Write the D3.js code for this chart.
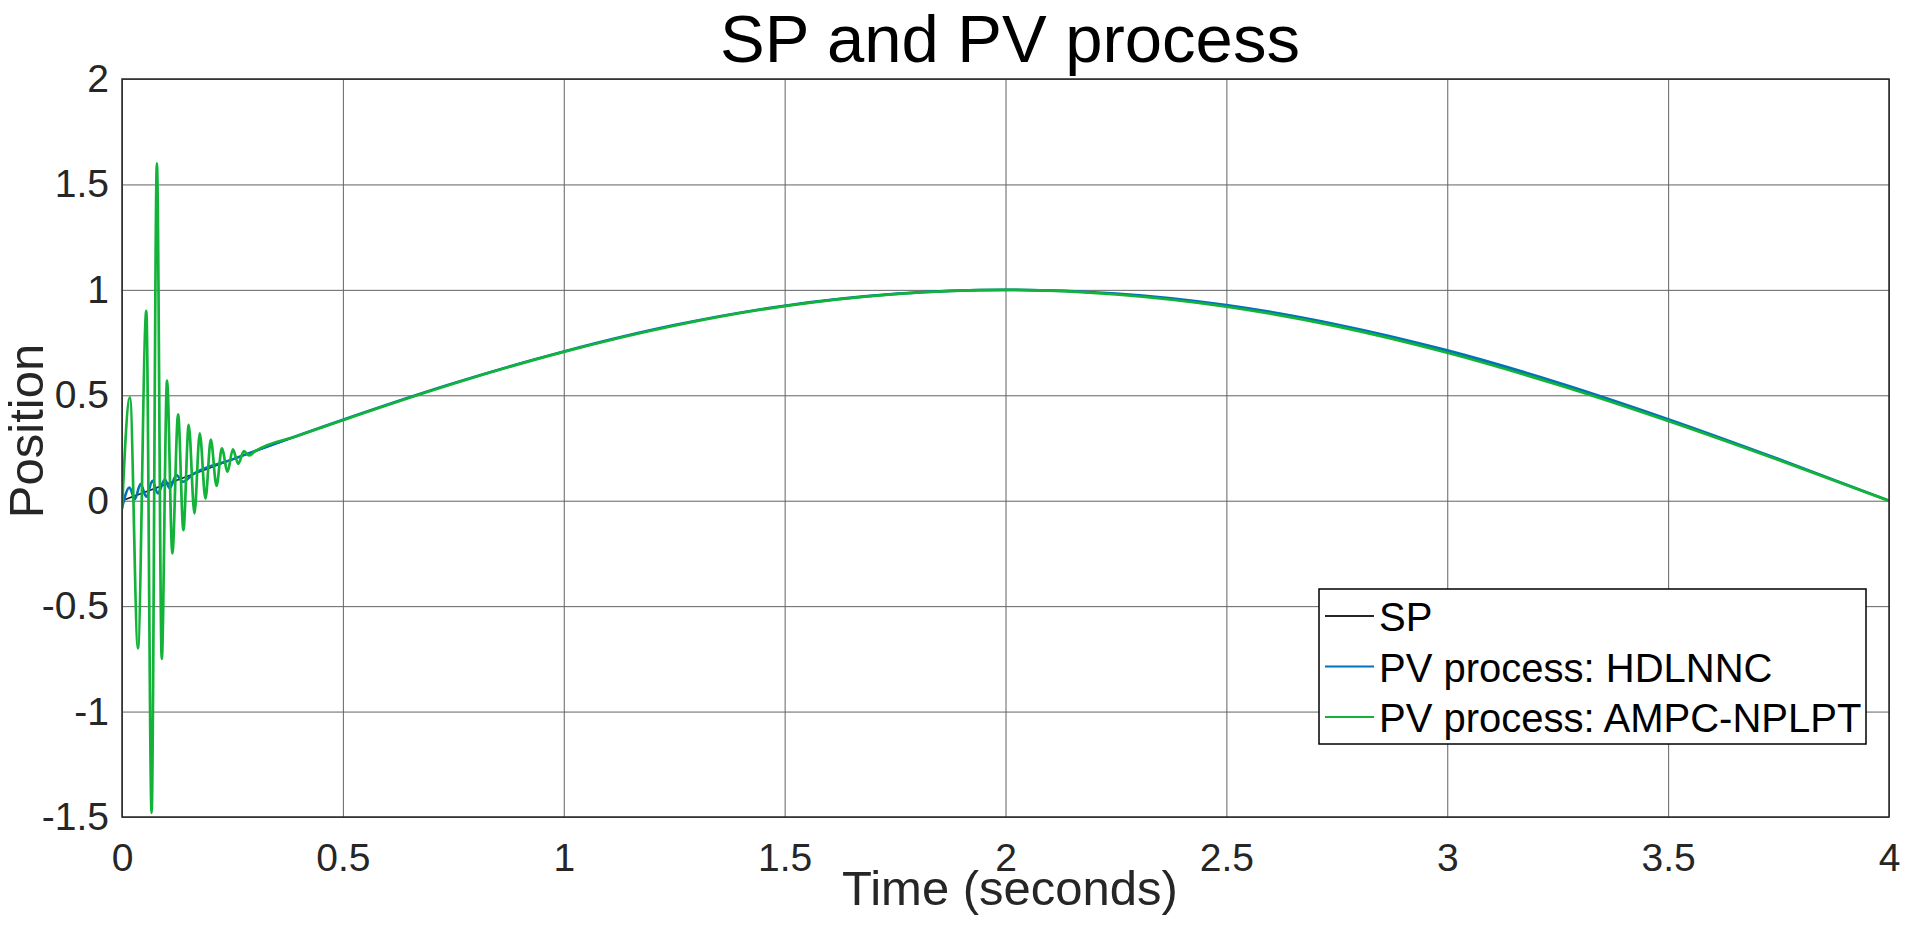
<!DOCTYPE html>
<html>
<head>
<meta charset="utf-8">
<script src="https://cdn.jsdelivr.net/npm/d3@7"></script>
<style>
  body { margin: 0; background: #fff; }
  svg text { font-family: "Liberation Sans", Arial, Helvetica, sans-serif; }
</style>
</head>
<body>
<div id="chart"></div>
<script>
var width = 1920;
var height = 936;

// set point (SP)
var spTime = [0, 0.25, 0.5, 0.75, 1, 1.25, 1.5, 1.75, 2, 2.25, 2.5, 2.75, 3, 3.25, 3.5, 3.75, 4];
var spValue = [0, 0.1951, 0.3827, 0.5556, 0.7071, 0.8315, 0.9239, 0.9808, 1.0, 0.9808, 0.9239, 0.8315, 0.7071, 0.5556, 0.3827, 0.1951, 0];

// PV process: HDLNNC
var hdTime = [0, 0.017, 0.029, 0.042, 0.055, 0.069, 0.081, 0.097, 0.108, 0.123, 0.138, 0.16,
    0.25, 0.5, 0.75, 1, 1.25, 1.5, 1.75, 2, 2.25, 2.5, 2.75, 3, 3.25, 3.5, 3.75, 4];
var hdValue = [-0.035, 0.063, 0.007, 0.079, 0.019, 0.095, 0.035, 0.100, 0.059, 0.122, 0.090, 0.125,
    0.196, 0.384, 0.557, 0.708, 0.833, 0.925, 0.981, 1.0, 0.983, 0.928, 0.836, 0.713, 0.561, 0.387, 0.198, 0.0];

// PV process: AMPC-NPLPT
var amTime = [0, 0.018, 0.036, 0.055, 0.067, 0.079, 0.090, 0.102, 0.114, 0.127, 0.139, 0.151,
    0.164, 0.176, 0.189, 0.201, 0.214, 0.226, 0.239, 0.251, 0.263, 0.276, 0.288, 0.30,
    0.4, 0.5, 0.75, 1, 1.25, 1.5, 1.75, 2, 2.25, 2.5, 2.75, 3, 3.25, 3.5, 3.75, 4];
var amValue = [-0.04, 0.49, -0.70, 0.90, -1.48, 1.60, -0.75, 0.57, -0.25, 0.41, -0.14, 0.36,
    -0.06, 0.32, 0.01, 0.29, 0.07, 0.248, 0.138, 0.244, 0.175, 0.235, 0.215, 0.233,
    0.309, 0.382, 0.555, 0.706, 0.830, 0.923, 0.980, 1.0, 0.978, 0.920, 0.827, 0.702, 0.550, 0.378, 0.193, 0.0];

var xTicks = [0, 0.5, 1, 1.5, 2, 2.5, 3, 3.5, 4];
var yTicks = [-1.5, -1, -0.5, 0, 0.5, 1, 1.5, 2];

var seriesNames = ["SP", "PV process: HDLNNC", "PV process: AMPC-NPLPT"];
var seriesColors = ["#262626", "#0072bd", "#13b33a"];

var margin = { left: 122, right: 31, top: 79, bottom: 119 };
var plotW = width - margin.left - margin.right;
var plotH = height - margin.top - margin.bottom;

var xScale = d3.scaleLinear().domain([0, 4]).range([0, plotW]);
var yScale = d3.scaleLinear().domain([-1.5, 2]).range([plotH, 0]);

var svg = d3.select("#chart").append("svg")
    .attr("width", width)
    .attr("height", height);

svg.append("rect").attr("width", width).attr("height", height).attr("fill", "#fff");

var g = svg.append("g").attr("transform", `translate(${margin.left},${margin.top})`);

// grid
g.append("g")
    .attr("transform", `translate(0,${plotH})`)
    .call(d3.axisBottom(xScale).tickValues(xTicks).tickSize(-plotH).tickFormat(""))
    .call(s => s.select(".domain").remove())
    .selectAll("line").attr("stroke", "#636363").attr("stroke-width", 1);

g.append("g")
    .call(d3.axisLeft(yScale).tickValues(yTicks).tickSize(-plotW).tickFormat(""))
    .call(s => s.select(".domain").remove())
    .selectAll("line").attr("stroke", "#636363").attr("stroke-width", 1);

// tick labels
var xAxis = g.append("g")
    .attr("transform", `translate(0,${plotH})`)
    .call(d3.axisBottom(xScale).tickValues(xTicks).tickSize(0).tickPadding(26).tickFormat(d => String(d)));
xAxis.select(".domain").remove();
xAxis.selectAll("text").attr("font-size", 39).attr("fill", "#262626")
    .style("font-family", "'Liberation Sans', Arial, sans-serif");

var yAxis = g.append("g")
    .call(d3.axisLeft(yScale).tickValues(yTicks).tickSize(0).tickPadding(13).tickFormat(d => String(d)));
yAxis.select(".domain").remove();
yAxis.selectAll("text").attr("font-size", 39).attr("fill", "#262626")
    .style("font-family", "'Liberation Sans', Arial, sans-serif");

// lines
g.append("clipPath").attr("id", "clip")
    .append("rect").attr("width", plotW).attr("height", plotH);

var line = d3.line()
    .x(d => xScale(d[0]))
    .y(d => yScale(d[1]))
    .curve(d3.curveMonotoneX);

var series = [
    d3.zip(spTime, spValue),
    d3.zip(hdTime, hdValue),
    d3.zip(amTime, amValue)
];
var widths = [1.6, 2.6, 2.7];

var lines = g.append("g").attr("clip-path", "url(#clip)");
series.forEach(function(d, i) {
    lines.append("path")
        .datum(d)
        .attr("fill", "none")
        .attr("stroke", seriesColors[i])
        .attr("stroke-width", widths[i])
        .attr("stroke-linejoin", "round")
        .attr("d", line);
});

// axes box
g.append("rect")
    .attr("width", plotW).attr("height", plotH)
    .attr("fill", "none").attr("stroke", "#262626").attr("stroke-width", 1.5);

// title and labels
svg.append("text")
    .attr("x", 1010).attr("y", 62)
    .attr("text-anchor", "middle")
    .attr("font-size", 67)
    .attr("fill", "#000")
    .text("SP and PV process");

svg.append("text")
    .attr("x", 1010).attr("y", 905)
    .attr("text-anchor", "middle")
    .attr("font-size", 49)
    .attr("fill", "#262626")
    .text("Time (seconds)");

svg.append("text")
    .attr("transform", "translate(43,431) rotate(-90)")
    .attr("text-anchor", "middle")
    .attr("font-size", 49)
    .attr("fill", "#262626")
    .text("Position");

// legend
var legend = svg.append("g").attr("transform", "translate(1319,589)");
legend.append("rect")
    .attr("width", 547).attr("height", 155)
    .attr("fill", "#fff").attr("stroke", "#000").attr("stroke-width", 1.5);

var rows = legend.selectAll(".row")
    .data(seriesNames)
    .enter().append("g")
    .attr("class", "row")
    .attr("transform", (d, i) => `translate(0,${27 + i * 50.5})`);

rows.append("line")
    .attr("x1", 6).attr("x2", 55)
    .attr("stroke", (d, i) => seriesColors[i])
    .attr("stroke-width", 2);

rows.append("text")
    .attr("x", 60).attr("y", 15)
    .attr("font-size", 40)
    .attr("fill", "#000")
    .text(d => d);
</script>
</body>
</html>
